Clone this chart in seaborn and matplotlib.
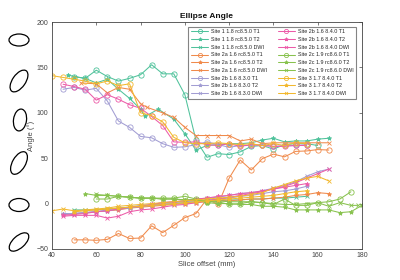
import numpy as np
import pandas as pd
import matplotlib
matplotlib.use("Agg")
import matplotlib.pyplot as plt
from matplotlib.patches import Ellipse
import seaborn as sns

sns.set_theme(style="white")
plt.rcParams['font.family'] = ['Liberation Sans', 'DejaVu Sans']

# ---------------- data ----------------
labels = [
    "Site 1 1.8 rc8.5.0 T1", "Site 1 1.8 rc8.5.0 T2", "Site 1 1.8 rc8.5.0 DWI",
    "Site 2a 1.6 rc8.5.0 T1", "Site 2a 1.6 rc8.5.0 T2", "Site 2a 1.6 rc8.5.0 DWI",
    "Site 2b 1.6 8.3.0 T1", "Site 2b 1.6 8.3.0 T2", "Site 2b 1.6 8.3.0 DWI",
    "Site 2b 1.6 8.4.0 T1", "Site 2b 1.6 8.4.0 T2", "Site 2b 1.6 8.4.0 DWI",
    "Site 2c 1.9 rc8.6.0 T1", "Site 2c 1.9 rc8.6.0 T2", "Site 2c 1.9 rc8.6.0 DWI",
    "Site 3 1.7 8.4.0 T1", "Site 3 1.7 8.4.0 T2", "Site 3 1.7 8.4.0 DWI",
]

s1_t1_x = [50, 55, 60, 65, 70, 75, 80, 85, 90, 95, 100, 105, 110, 115, 120, 125, 130, 135, 140, 145, 150, 155, 160]
s1_t1_y = [140, 138, 147, 140, 135, 138, 142, 153, 143, 143, 120, 70, 51, 55, 54, 57, 63, 64, 60, 65, 66, 66, 64]
s1_t2_x = [47, 50, 55, 60, 65, 70, 75, 80, 82, 88, 95, 100, 105, 110, 115, 120, 125, 130, 135, 140, 145, 150, 155, 160, 165]
s1_t2_y = [142, 140, 138, 133, 137, 126, 116, 104, 96, 104, 93, 77, 59, 64, 65, 66, 66, 67, 70, 72, 68, 69, 69, 71, 72]
s1_dwi_x = [50, 55, 60, 65, 70, 75, 80, 85, 90, 95, 100, 105, 110, 115, 120, 125, 130, 135, 140, 145, 150, 155]
s1_dwi_y = [-7, -7, -7, -6, -5, -4, -3, -2, -1, 0, 1, 2, 3, 3, 4, 4, 5, 5, 6, 6, 7, 8]

s2a_t1_x = [50, 55, 60, 65, 70, 75, 80, 85, 90, 95, 100, 105, 110, 115, 120, 125, 130, 135, 140, 145, 150, 155, 160, 165]
s2a_t1_y = [-40, -40, -40.5, -39.5, -33, -38.5, -38, -24.5, -32, -24, -15.5, -11, 5, -1, 28, 48, 37, 49.5, 54.5, 51.5, 57.5, 58, 59.5, 59]
s2a_t2_x = [45, 50, 55, 60, 65, 70, 75, 80, 85, 90, 95, 100, 105, 110, 115, 120, 125, 130, 135, 140, 145, 150, 155, 160, 165]
s2a_t2_y = [-12, -11, -10, -9, -8, -7, -5, -4, -3, -2, -1, 0, 1, 2, 3, 3, 4, 5, 5, 6, 7, 9, 10, 12, 11]
s2a_dwi_x = [53, 60, 65, 70, 75, 80, 83, 90, 95, 100, 105, 110, 115, 120, 125, 130, 135, 140, 145, 150, 155, 160, 165]
s2a_dwi_y = [133, 132, 122, 128, 126, 110, 106, 100, 95, 84, 75, 75, 75, 75, 69, 71, 66, 67, 67, 67, 67, 67, 67]

s2b3_t1_x = [45, 50, 55, 60, 65, 70, 75, 80, 85, 90, 95, 100, 105, 110, 115, 120, 125, 130, 135, 140, 145, 150, 155]
s2b3_t1_y = [126, 128, 125, 127, 113, 91, 84, 74, 72.5, 66, 62, 62.5, 65, 68, 65, 62, 64, 64, 65, 63, 64, 64, 65]
s2b3_t2_x = [45, 50, 55, 60, 65, 70, 75, 80, 85, 90, 95, 100, 105, 110, 115, 120, 125, 130, 135, 140, 145, 150, 155]
s2b3_t2_y = [-11, -11, -10, -9, -8, -6, -5, -3, -2, 0, 1, 2, 3, 4, 5, 6, 8, 9, 11, 13, 14, 16, 19]
s2b3_dwi_x = [45, 50, 55, 60, 65, 70, 75, 80, 85, 90, 95, 100, 105, 110, 115, 120, 125, 130, 135, 140, 145, 150, 155, 160, 165]
s2b3_dwi_y = [-12, -11, -10, -9, -7, -5, -4, -2, -1, 1, 2, 3, 5, 6, 7, 9, 11, 12, 14, 17, 20, 24, 30, 35, 38]

s2b4_t1_x = [45, 50, 55, 60, 65, 70, 75, 80, 85, 90, 95, 100, 105, 110, 115, 120, 125, 130, 135, 140, 145, 150, 155]
s2b4_t1_y = [131.5, 129, 126, 114, 120, 115, 109, 105, 96, 86, 68, 67.5, 68, 65, 64, 66, 63, 65, 64, 63, 63, 64, 64]
s2b4_t2_x = [45, 50, 55, 60, 65, 70, 75, 80, 85, 90, 95, 100, 105, 110, 115, 120, 125, 130, 135, 140, 145, 150, 155]
s2b4_t2_y = [-13, -12, -11, -9, -8, -6, -4, -3, -1, 1, 2, 3, 5, 6, 8, 9, 11, 12, 14, 16, 18, 20, 22]
s2b4_dwi_x = [45, 50, 55, 60, 65, 70, 75, 80, 85, 90, 95, 100, 105, 110, 115, 120, 125, 130, 135, 140, 145, 150, 155, 160, 165]
s2b4_dwi_y = [-14, -13, -13, -13, -16, -14, -9, -7, -6, -4, -2, -1, 1, 3, 5, 7, 9, 11, 13, 16, 19, 23, 28, 33, 38]

s2c_t1_x = [60, 65, 70, 75, 80, 85, 90, 95, 100, 105, 110, 115, 120, 125, 130, 135, 140, 145, 150, 155, 160, 165, 170, 175]
s2c_t1_y = [5, 5, 8, 7, 6, 6, 6, 6, 8, 5, 2, 2, -1, 0, 2, 1, -1, 5, -2, -2, 1, 2, 5, 13]
s2c_t2_x = [55, 60, 65, 70, 75, 80, 85, 90, 95, 100, 105, 110, 115, 120, 125, 130, 135, 140, 145, 150, 155, 160, 165, 170, 175, 180]
s2c_t2_y = [11, 9, 9, 8, 7, 6, 6, 5, 5, 4, 4, 1, 0, 0, -1, -1, -3, -3, -4, -7, -7, -7, -7, -10, -9, -2]
s2c_dwi_x = [60, 65, 70, 75, 80, 85, 90, 95, 100, 105, 110, 115, 120, 125, 130, 135, 140, 145, 150, 155, 160, 165, 170, 175, 178]
s2c_dwi_y = [10, 9, 8, 7, 6, 6, 5, 5, 4, 4, 3, 3, 2, 2, 2, 1, 0, -1, -1, 0, 1, -3, 1, -2, -2]

s3_t1_x = [40, 45, 50, 55, 60, 65, 70, 75, 80, 85, 90, 95, 100, 105, 110, 115, 120, 125, 130, 135, 140, 145, 150, 155]
s3_t1_y = [141, 139, 137, 135, 132, 135, 130, 132, 100, 97, 90, 73, 67, 66, 66, 67, 66, 65, 66, 64, 66, 64, 67, 66]
s3_t2_x = [50, 55, 60, 65, 70, 75, 80, 85, 90, 95, 100, 105, 110, 115, 120, 125, 130, 135, 140, 145, 150, 155]
s3_t2_y = [-9, -8, -7, -6, -5, -4, -3, -2, -1, 0, 1, 2, 3, 4, 5, 6, 7, 8, 9, 11, 13, 14]
s3_dwi_x = [40, 45, 50, 55, 60, 65, 70, 75, 80, 85, 90, 95, 100, 105, 110, 115, 120, 125, 130, 135, 140, 145, 150, 155, 160, 165]
s3_dwi_y = [-8, -6, -8, -7, -6, -5, -3, -2, -1, 0, 1, 2, 3, 4, 5, 6, 7, 8, 10, 12, 17, 21, 25, 28, 30, 25]

series_x = [s1_t1_x, s1_t2_x, s1_dwi_x, s2a_t1_x, s2a_t2_x, s2a_dwi_x,
            s2b3_t1_x, s2b3_t2_x, s2b3_dwi_x, s2b4_t1_x, s2b4_t2_x, s2b4_dwi_x,
            s2c_t1_x, s2c_t2_x, s2c_dwi_x, s3_t1_x, s3_t2_x, s3_dwi_x]
series_y = [s1_t1_y, s1_t2_y, s1_dwi_y, s2a_t1_y, s2a_t2_y, s2a_dwi_y,
            s2b3_t1_y, s2b3_t2_y, s2b3_dwi_y, s2b4_t1_y, s2b4_t2_y, s2b4_dwi_y,
            s2c_t1_y, s2c_t2_y, s2c_dwi_y, s3_t1_y, s3_t2_y, s3_dwi_y]

site_colors = ['#4fc29b', '#f08a4b', '#a29dd3', '#ec5ba8', '#88c24e', '#f2b82e']
marker_kinds = ['o', '*', 'x']

# ---------------- figure ----------------
fig = plt.figure(figsize=(4.0, 2.8), dpi=100)
ax = fig.add_axes([0.13, 0.111, 0.775, 0.81])

for i, lab in enumerate(labels):
    c = site_colors[i // 3]
    m = marker_kinds[i % 3]
    df = pd.DataFrame({"x": series_x[i], "y": series_y[i]})
    kw = dict(marker=m, markersize=3.8 if m == 'o' else (3.2 if m == '*' else 2.6),
              markeredgewidth=0.6)
    if m == 'o':
        kw['markerfacecolor'] = 'none'
    else:
        kw['markerfacecolor'] = c
    kw['markeredgecolor'] = c
    sns.lineplot(data=df, x="x", y="y", ax=ax, color=c, linewidth=0.75,
                 label=lab, sort=False, estimator=None, **kw)

ax.set_xlim(40, 180)
ax.set_ylim(-50, 200)
ax.set_xticks(range(40, 181, 20))
ax.set_yticks(range(-50, 201, 50))
ax.tick_params(direction='in', length=2.5, width=0.5, labelsize=5,
               colors='#444444', top=True, right=True, pad=2.5)
for sp in ax.spines.values():
    sp.set_color('#444444')
    sp.set_linewidth(0.6)
ax.set_xlabel("Slice offset (mm)", fontsize=5.5, color='#444444', labelpad=1.5)
ax.set_ylabel("Angle (°)", fontsize=5.5, color='#444444', labelpad=1)
ax.set_title("Ellipse Angle", fontsize=6, fontweight='bold', pad=3, color='#111111')

leg = ax.legend(ncol=2, loc='upper right', fontsize=3.9, frameon=True,
                fancybox=False, edgecolor='#666666', borderpad=0.5,
                labelspacing=0.5, handlelength=3.2, handletextpad=0.5,
                columnspacing=2.0, bbox_to_anchor=(0.985, 0.985),
                borderaxespad=0.2)
leg.get_frame().set_linewidth(0.8)
for lh in leg.get_lines():
    lh.set_markersize(lh.get_markersize() * 0.8)

# ellipse illustrations on the left
eax = fig.add_axes([0.0, 0.0, 0.075, 1.0])
eax.set_xlim(0, 30)
eax.set_ylim(280, 0)
eax.axis('off')
ell_specs = [
    (19, 40, 20, 12, 0),
    (19, 81, 25, 13, -55),
    (20, 120, 22, 13, -82),
    (19, 163, 25, 13, -60),
    (19, 205, 20, 13, 0),
    (19, 242, 24, 12, -42),
]
for cx, cy, w, h, a in ell_specs:
    eax.add_patch(Ellipse((cx, cy), w, h, angle=a, fill=False,
                          edgecolor='black', linewidth=0.9, clip_on=False))

fig.savefig("out.png", dpi=100)
